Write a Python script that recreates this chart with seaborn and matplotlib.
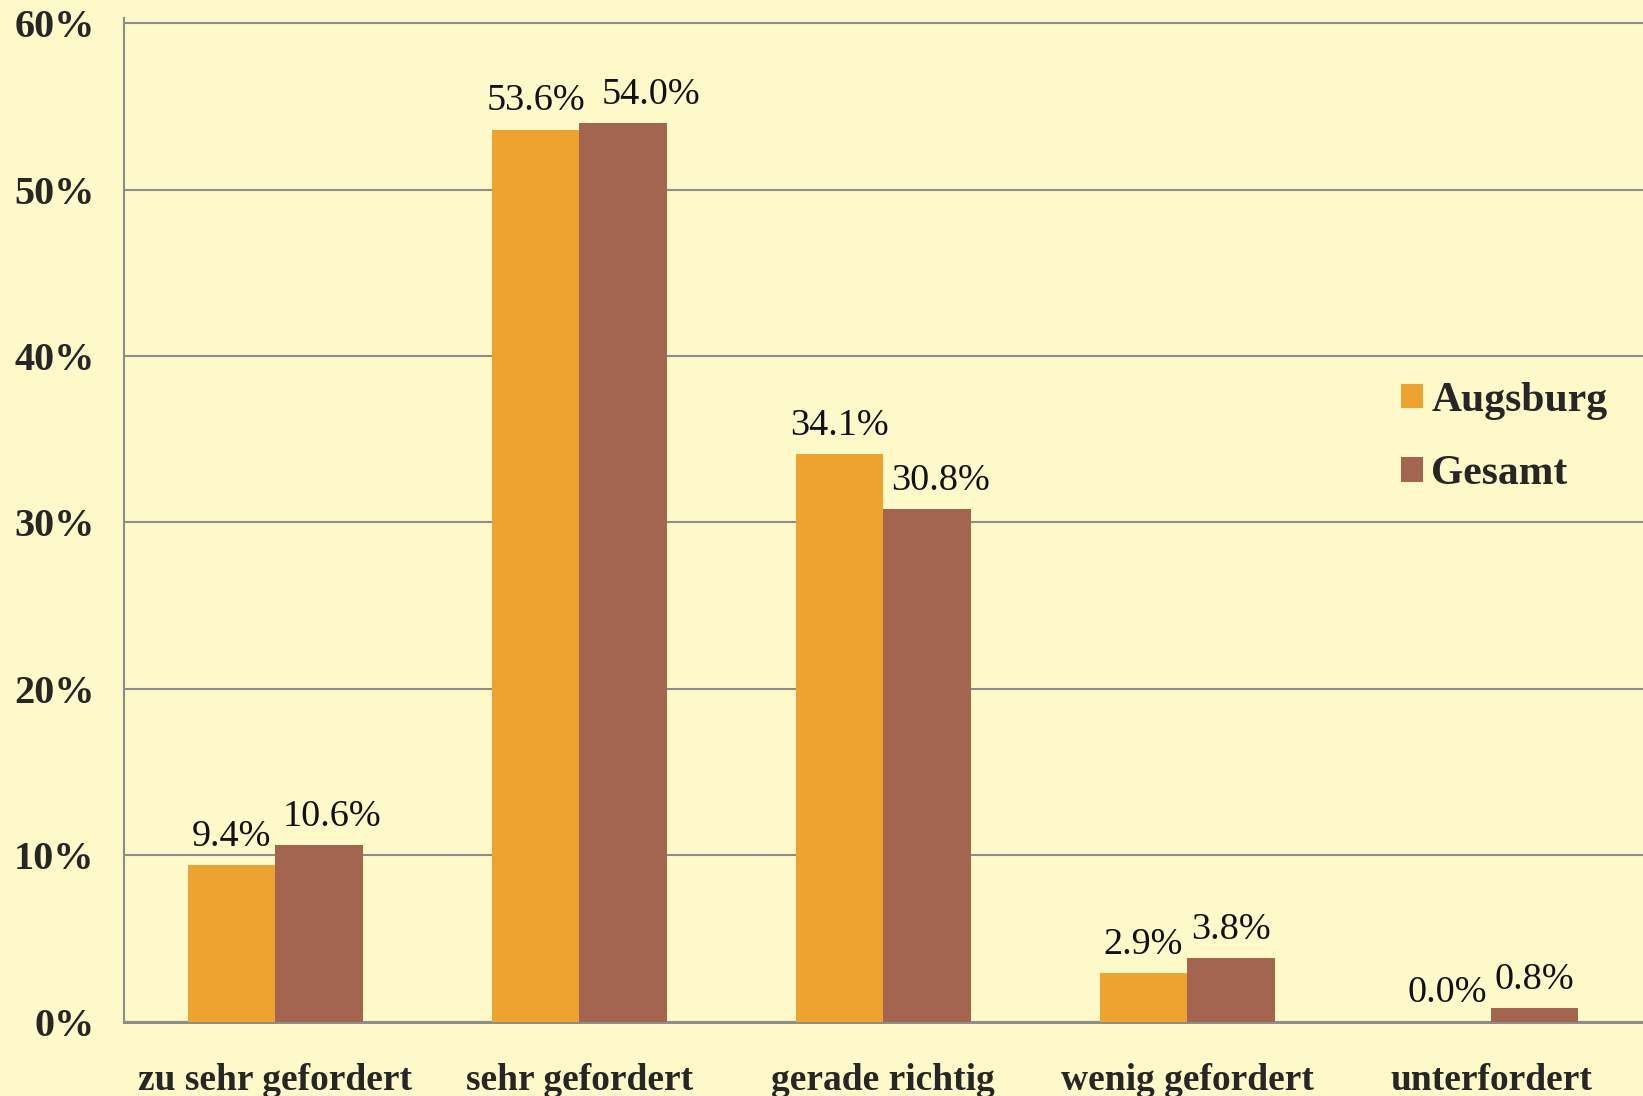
import matplotlib
matplotlib.use("Agg")
import matplotlib.pyplot as plt
import seaborn as sns
import pandas as pd
from matplotlib.patches import Patch

categories = ["zu sehr gefordert", "sehr gefordert", "gerade richtig", "wenig gefordert", "unterfordert"]
series_names = ["Augsburg", "Gesamt"]
augsburg = [9.4, 53.6, 34.1, 2.9, 0.0]
gesamt = [10.6, 54.0, 30.8, 3.8, 0.8]
y_ticks = [0, 10, 20, 30, 40, 50, 60]
y_tick_labels = ["0%", "10%", "20%", "30%", "40%", "50%", "60%"]

colors = ["#EEA330", "#A36450"]
bg = "#FEF9C9"
grid_c = "#8C8C8C"

sns.set_style("white")
plt.rcParams["font.family"] = ["Liberation Serif", "DejaVu Serif"]

df = pd.DataFrame({
    "cat": categories * 2,
    "val": augsburg + gesamt,
    "series": [series_names[0]] * len(categories) + [series_names[1]] * len(categories),
})

fig = plt.figure(figsize=(16.43, 10.96), dpi=100)
fig.patch.set_facecolor(bg)
ax = fig.add_axes([0.0752, 0.0679, 0.9248, 0.9155])
ax.set_facecolor(bg)

sns.barplot(data=df, x="cat", y="val", hue="series", palette=colors,
            width=0.575, saturation=1, ax=ax, order=categories,
            hue_order=series_names, linewidth=0, zorder=3)

ax.set_ylim(0, 60.3)
ax.set_xlim(-0.5, 4.5)
ax.set_yticks(y_ticks)
ax.set_yticklabels(y_tick_labels, fontsize=29, fontweight="bold")
ax.yaxis.grid(True, color=grid_c, linewidth=1.5, zorder=0)
ax.set_axisbelow(True)
ax.tick_params(axis="y", length=9.4, width=1.5, color=grid_c, pad=11.5, direction="out")

# category boundaries as major ticks, labels at centers (minor)
ax.set_xticks([i - 0.5 for i in range(len(categories) + 1)])
ax.set_xticklabels([""] * (len(categories) + 1))
ax.set_xticks(list(range(len(categories))), minor=True)
ax.set_xticklabels(categories, minor=True, fontsize=27, fontweight="bold")
ax.tick_params(axis="x", which="major", length=8, width=1.5, color=grid_c, direction="out")
ax.tick_params(axis="x", which="minor", length=0, pad=30)
ax.set_xlabel("")
ax.set_ylabel("")

for s in ["top", "right"]:
    ax.spines[s].set_visible(False)
ax.spines["left"].set_color(grid_c)
ax.spines["left"].set_linewidth(1.5)
ax.spines["bottom"].set_color(grid_c)
ax.spines["bottom"].set_linewidth(2.2)

# data labels
dx_aug = [0, 0, 0, 0, 0]
dx_ges = [9, 20, 10, 0, 0]
for ci, cont in enumerate(ax.containers):
    dxs = dx_aug if ci == 0 else dx_ges
    for j, bar in enumerate(cont):
        h = bar.get_height()
        xc = bar.get_x() + bar.get_width() / 2
        ax.annotate(f"{h:.1f}%", (xc, h), xytext=(dxs[j], 14), textcoords="offset points",
                    ha="center", va="baseline", fontsize=27.5, color="#111111")

if ax.get_legend() is not None:
    ax.get_legend().remove()
handles = [Patch(facecolor=c, edgecolor="none") for c in colors]
leg = fig.legend(handles, series_names, loc="center left", bbox_to_anchor=(0.8527, 0.6007),
                 bbox_transform=fig.transFigure, frameon=False, borderpad=0, borderaxespad=0,
                 handlelength=0.53, handleheight=0.53, handletextpad=0.2, labelspacing=0.85,
                 prop={"family": ["Liberation Serif"], "weight": "bold", "size": 30})

fig.savefig("out.png", dpi=100, facecolor=bg)
